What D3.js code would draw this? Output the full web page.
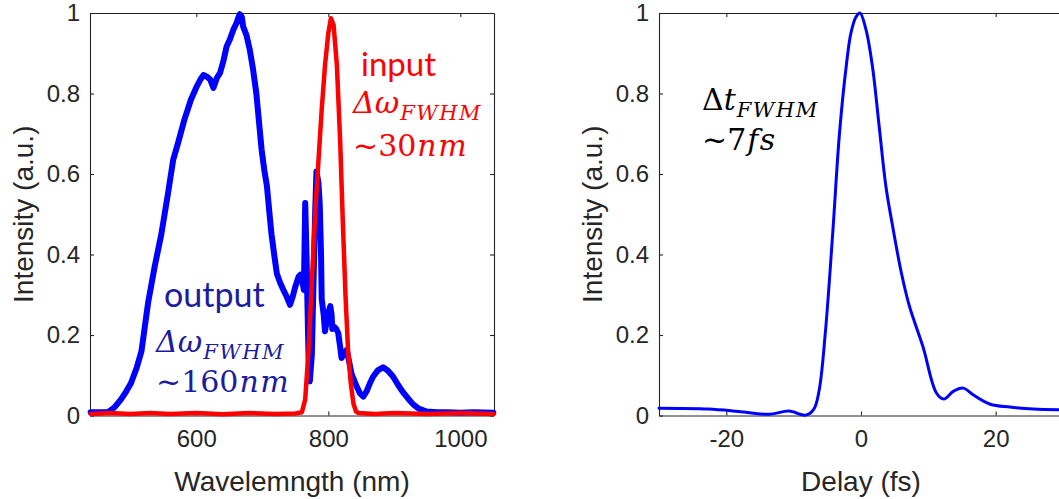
<!DOCTYPE html>
<html>
<head>
<meta charset="utf-8">
<script src="https://cdn.jsdelivr.net/npm/d3@7"></script>
<style>
  body { margin: 0; background: #fff; }
  svg { display: block; }
</style>
</head>
<body>
<svg id="chart" width="1059" height="499"></svg>
<script>
// ---- left panel: output spectrum (blue) ----
const wl_out = [440, 455, 467, 476, 486, 494, 501, 510, 517, 527, 537, 547, 557, 565, 572, 582, 592, 600,
  606, 611, 616, 621, 626, 631, 636, 641, 646, 651, 656, 661, 664, 666, 669, 671, 676, 681, 686, 691, 695,
  699, 703, 707, 711, 714, 718, 722, 727, 732, 737, 742, 746, 750, 755, 758, 761, 763, 765, 767, 768, 770,
  772, 775, 777, 780, 782, 785, 787, 789, 790, 793, 795, 798, 801, 803, 805, 806, 809, 812, 815, 818, 820,
  824, 828, 832, 835, 838, 843, 848, 853, 858, 863, 868, 875, 883, 890, 898, 906, 914, 922, 929, 937, 949,
  965, 980, 1000, 1020, 1050];
const int_out = [0.008, 0.008, 0.009, 0.02, 0.04, 0.06, 0.08, 0.12, 0.16, 0.28, 0.37, 0.45, 0.55, 0.635, 0.675,
  0.735, 0.785, 0.815, 0.834, 0.846, 0.842, 0.835, 0.814, 0.838, 0.851, 0.88, 0.917, 0.935, 0.958, 0.975, 0.99,
  0.997, 0.99, 0.966, 0.945, 0.909, 0.86, 0.80, 0.73, 0.66, 0.61, 0.57, 0.50, 0.45, 0.40, 0.353, 0.33, 0.312,
  0.295, 0.275, 0.295, 0.32, 0.345, 0.35, 0.33, 0.312, 0.528, 0.40, 0.31, 0.15, 0.085, 0.15, 0.29, 0.50, 0.606,
  0.58, 0.525, 0.40, 0.29, 0.25, 0.209, 0.24, 0.26, 0.272, 0.25, 0.215, 0.22, 0.215, 0.205, 0.17, 0.143, 0.155,
  0.163, 0.13, 0.105, 0.092, 0.072, 0.055, 0.047, 0.06, 0.08, 0.097, 0.112, 0.12, 0.112, 0.097, 0.075, 0.056,
  0.04, 0.027, 0.017, 0.01, 0.008, 0.008, 0.007, 0.008, 0.007];

// ---- left panel: input spectrum (red) ----
const wl_in = [440, 470, 500, 530, 560, 600, 640, 680, 720, 750, 760, 765, 770, 775, 780, 785, 790, 795, 800,
  804, 808, 813, 818, 822, 826, 830, 834, 838, 842, 846, 870, 900, 950, 1000, 1050];
const int_in = [0.004, 0.006, 0.004, 0.006, 0.004, 0.006, 0.003, 0.006, 0.004, 0.005, 0.008, 0.04, 0.16, 0.33,
  0.50, 0.63, 0.76, 0.87, 0.95, 0.987, 0.97, 0.87, 0.68, 0.48, 0.30, 0.16, 0.08, 0.03, 0.01, 0.006, 0.004,
  0.006, 0.004, 0.006, 0.004];

// ---- right panel: retrieved pulse ----
const delay_fs = [-30, -22.7, -18.2, -13.7, -10.7, -8.2, -7.0, -6.2, -5.3, -4.2, -3.2, -2.2, -1.5, -0.75, -0.15,
  0.75, 1.7, 2.7, 3.7, 4.7, 6.0, 7.2, 9.2, 11.2, 12.3, 13.7, 15.2, 16.7, 19.2, 22.1, 25.6, 30];
const pulse_int = [0.018, 0.016, 0.01, 0.003, 0.011, 0.001, 0.016, 0.064, 0.205, 0.453, 0.70, 0.867, 0.95,
  0.99, 1.0, 0.958, 0.867, 0.718, 0.569, 0.47, 0.354, 0.271, 0.171, 0.056, 0.041, 0.06, 0.068, 0.051, 0.028,
  0.021, 0.016, 0.014];

const wl_ticks = [600, 800, 1000];
const delay_ticks = [-20, 0, 20];
const y_ticks = [0, 0.2, 0.4, 0.6, 0.8, 1];

const AXIS_COLOR = "#262626";
const SANS = "'Liberation Sans', Arial, sans-serif";
const MATH = "'DejaVu Serif', serif";

class Panel {
  constructor(svg, left, xdomain) {
    this.svg = svg;
    this.top = 13;
    this.bottom = 415.5;
    this.left = left;
    this.right = left + 404;
    this.x = d3.scaleLinear().domain(xdomain).range([this.left, this.right]);
    this.y = d3.scaleLinear().domain([0, 1]).range([this.bottom, this.top]);
    this.g = svg.append("g");
  }

  drawAxes(xticks, xlabel) {
    const g = this.g;
    const tl = 4;
    // matlab style box: labels bottom/left, mirrored ticks top/right
    g.append("g")
      .attr("transform", `translate(0,${this.bottom})`)
      .call(d3.axisBottom(this.x).tickValues(xticks).tickSizeInner(-tl).tickSizeOuter(0).tickPadding(14)
        .tickFormat(d => String(d)))
      .call(a => a.selectAll("text").attr("dy", "0.71em"));
    g.append("g")
      .attr("transform", `translate(0,${this.top})`)
      .call(d3.axisTop(this.x).tickValues(xticks).tickSizeInner(-tl).tickSizeOuter(0).tickFormat(""));
    g.append("g")
      .attr("transform", `translate(${this.left},0)`)
      .call(d3.axisLeft(this.y).tickValues(y_ticks).tickSizeInner(-tl).tickSizeOuter(0).tickPadding(10)
        .tickFormat(d => String(d)));
    g.append("g")
      .attr("transform", `translate(${this.right},0)`)
      .call(d3.axisRight(this.y).tickValues(y_ticks).tickSizeInner(-tl).tickSizeOuter(0).tickFormat(""));

    g.selectAll(".domain, .tick line").attr("stroke", AXIS_COLOR).attr("stroke-width", 1.1);
    g.selectAll(".tick text")
      .attr("fill", AXIS_COLOR)
      .attr("font-family", SANS)
      .attr("font-size", 24);

    g.append("text")
      .attr("x", (this.left + this.right) / 2)
      .attr("y", 491)
      .attr("text-anchor", "middle")
      .attr("font-family", SANS)
      .attr("font-size", 28)
      .attr("fill", AXIS_COLOR)
      .text(xlabel);

    g.append("text")
      .attr("transform", `translate(${this.left - 57},${(this.top + this.bottom) / 2}) rotate(-90)`)
      .attr("text-anchor", "middle")
      .attr("font-family", SANS)
      .attr("font-size", 28)
      .attr("fill", AXIS_COLOR)
      .text("Intensity (a.u.)");
  }

  drawLine(xs, ys, color, width, curve) {
    const line = d3.line()
      .x(d => this.x(d[0]))
      .y(d => this.y(d[1]))
      .curve(curve || d3.curveLinear);
    this.g.append("path")
      .datum(xs.map((v, i) => [v, ys[i]]))
      .attr("fill", "none")
      .attr("stroke", color)
      .attr("stroke-width", width)
      .attr("stroke-linejoin", "round")
      .attr("stroke-linecap", "round")
      .attr("d", line);
  }
}

// math-ish label: symbol + italic FWHM subscript, then "~value unit"
function mathLabel(svg, color, x, y1, sym, symItalic, y2, num, unit) {
  const t1 = svg.append("text")
    .attr("x", x).attr("y", y1)
    .attr("font-family", MATH)
    .attr("font-size", 30)
    .attr("fill", color);
  if (symItalic) {
    t1.append("tspan").attr("font-style", "italic").text(sym);
  } else {
    t1.append("tspan").text(sym[0]);
    t1.append("tspan").attr("font-style", "italic").text(sym.slice(1));
  }
  t1.append("tspan")
    .attr("dx", 1).attr("dy", 7)
    .attr("font-size", 21)
    .attr("font-style", "italic")
    .attr("letter-spacing", 1.5)
    .text("FWHM");

  const t2 = svg.append("text")
    .attr("x", x).attr("y", y2)
    .attr("font-family", MATH)
    .attr("font-size", 30)
    .attr("fill", color);
  t2.append("tspan").text("~" + num);
  t2.append("tspan").attr("font-style", "italic").attr("dx", 1).attr("letter-spacing", 1.5).text(unit);
}

function whenDocumentLoaded(action) {
  if (document.readyState === "loading") {
    document.addEventListener("DOMContentLoaded", action);
  } else {
    action();
  }
}

whenDocumentLoaded(() => {
  const svg = d3.select("#chart");

  const spec = new Panel(svg, 90, [439, 1051]);
  spec.drawAxes(wl_ticks, "Wavelemngth (nm)");
  spec.drawLine(wl_out, int_out, "#0000ff", 6);
  spec.drawLine(wl_in, int_in, "#ff0000", 4.5);

  const pulse = new Panel(svg, 659, [-30, 30]);
  pulse.drawAxes(delay_ticks, "Delay (fs)");
  pulse.drawLine(delay_fs, pulse_int, "#0000ff", 3, d3.curveCatmullRom);

  // annotations
  svg.append("text")
    .attr("x", 361).attr("y", 76)
    .attr("font-family", "Lato, 'Open Sans', sans-serif")
    .attr("font-size", 33)
    .attr("fill", "#ff0000")
    .text("input");
  mathLabel(svg, "#ff0000", 353, 113, "Δω", true, 156, "30", "nm");

  svg.append("text")
    .attr("x", 164).attr("y", 307)
    .attr("font-family", "Lato, 'Open Sans', sans-serif")
    .attr("font-size", 34)
    .attr("fill", "#1c1c9c")
    .text("output");
  mathLabel(svg, "#1c1c9c", 156, 352, "Δω", true, 392, "160", "nm");

  mathLabel(svg, "#000000", 702, 110, "Δt", false, 150, "7", "fs");
});
</script>
</body>
</html>
